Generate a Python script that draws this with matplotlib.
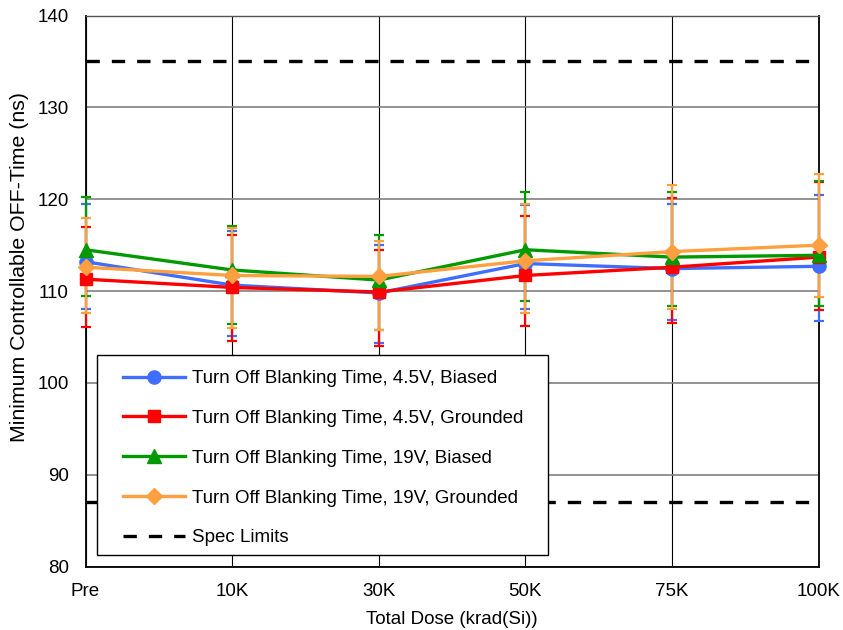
import matplotlib
matplotlib.use("Agg")
import matplotlib.pyplot as plt
from matplotlib.patches import Rectangle
import numpy as np

plt.rcParams['font.family'] = ['Liberation Sans', 'DejaVu Sans']

categories = ["Pre", "10K", "30K", "50K", "75K", "100K"]

blue_mean = [113.2, 110.65, 109.8, 113.0, 112.45, 112.7]
blue_hi = [119.45, 116.5, 115.0, 119.4, 119.5, 120.5]
blue_lo = [108.0, 105.1, 104.3, 108.0, 106.9, 106.7]

red_mean = [111.3, 110.4, 109.9, 111.7, 112.6, 113.7]
red_hi = [117.0, 116.1, 114.5, 118.2, 120.15, 121.85]
red_lo = [106.1, 104.6, 104.0, 106.2, 106.5, 107.9]

green_mean = [114.5, 112.3, 111.2, 114.5, 113.7, 113.9]
green_hi = [120.25, 117.1, 116.15, 120.8, 120.8, 122.0]
green_lo = [109.45, 106.4, 105.8, 108.95, 108.4, 108.4]

orange_mean = [112.6, 111.7, 111.6, 113.3, 114.3, 115.0]
orange_hi = [118.0, 116.9, 115.5, 119.5, 121.6, 122.7]
orange_lo = [107.6, 106.0, 105.8, 107.6, 108.0, 109.4]

spec_upper = 135
spec_lower = 87

labels = ["Turn Off Blanking Time, 4.5V, Biased",
          "Turn Off Blanking Time, 4.5V, Grounded",
          "Turn Off Blanking Time, 19V, Biased",
          "Turn Off Blanking Time, 19V, Grounded"]

series = [
    (blue_mean, blue_lo, blue_hi, '#3F6EFF', 'o', 9.5),
    (red_mean, red_lo, red_hi, '#FF0000', 's', 9),
    (green_mean, green_lo, green_hi, '#009A00', '^', 9.5),
    (orange_mean, orange_lo, orange_hi, '#FFA040', 'D', 8),
]

FS = 13.5
W, H = 843, 630
L, T, R, B = 85.5, 15.5, 818.7, 566.7
fig = plt.figure(figsize=(W / 100, H / 100), dpi=100)
ax = fig.add_axes([L / W, 1 - B / H, (R - L) / W, (B - T) / H])

def axfrac(px, py):
    return ((px - L) / (R - L), 1 - (py - T) / (B - T))

x = np.arange(len(categories))
handles = []
for (m, lo, hi, c, mk, ms), lab in zip(series, labels):
    m = np.array(m); lo = np.array(lo); hi = np.array(hi)
    eb = ax.errorbar(x, m, yerr=[m - lo, hi - m], fmt='none', ecolor=c,
                     elinewidth=1.6, capsize=3.6, capthick=1.6, zorder=3)
    for art in eb.lines[1] + eb.lines[2]:
        art.set_clip_on(False)
    h, = ax.plot(x, m, color=c, lw=2.4, marker=mk, markersize=ms, label=lab,
                 zorder=4, clip_on=False)
    handles.append(h)

dash = (0, (4, 3.6))
hs, = ax.plot([0, len(categories) - 1], [spec_upper, spec_upper], color='black',
              lw=2.4, ls=dash, label="Spec Limits", zorder=2)
ax.plot([0, len(categories) - 1], [spec_lower, spec_lower], color='black',
        lw=2.4, ls=dash, zorder=2)
handles.append(hs)

ax.set_xlim(0, len(categories) - 1)
ax.set_ylim(80, 140)
ax.set_yticks(np.arange(80, 141, 10))
ax.set_xticks(x)
ax.set_xticklabels(categories)
ax.tick_params(axis='both', length=0, labelsize=FS)
ax.tick_params(axis='x', pad=11.5)
ax.tick_params(axis='y', pad=12)

ax.grid(axis='y', color='#808080', lw=1.2, zorder=0)
ax.grid(axis='x', color='black', lw=0.8, zorder=0)
ax.set_axisbelow(True)
for side in ['left', 'bottom', 'right']:
    ax.spines[side].set_color('black')
    ax.spines[side].set_linewidth(1.3)
ax.spines['top'].set_color('#555555')
ax.spines['top'].set_linewidth(1.0)

ax.set_xlabel("Total Dose (krad(Si))", fontsize=FS, labelpad=8)
ax.set_ylabel("Minimum Controllable OFF-Time (ns)", fontsize=15.3)
ax.yaxis.set_label_coords((29 - L) / (R - L), 1 - (266.7 - T) / (B - T))

# legend frame
x0, y1 = axfrac(97, 355)
x1, y0 = axfrac(548, 555)
ax.add_patch(Rectangle((x0, y0), x1 - x0, y1 - y0, transform=ax.transAxes,
                       facecolor='white', edgecolor='black', lw=1.0, zorder=9,
                       clip_on=False))
lx, ly = axfrac(123, 370)
leg = ax.legend(handles=handles, loc='upper left', bbox_to_anchor=(lx, ly),
                fontsize=FS, frameon=False, handlelength=3.3, labelspacing=1.21,
                borderpad=0, handletextpad=0.4, borderaxespad=0)
leg.set_zorder(10)

fig.savefig("out.png", dpi=100)
